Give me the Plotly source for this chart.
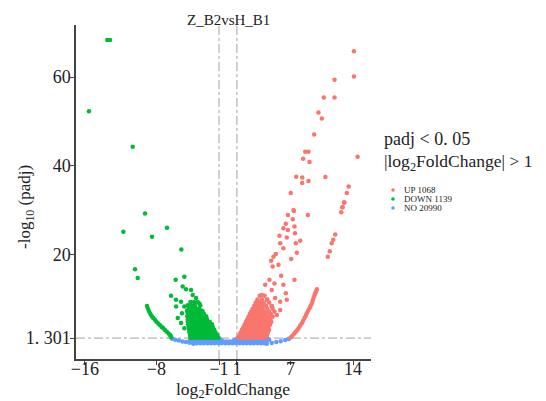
import plotly.graph_objects as go

# ---- data ----
# UP (red): log2FoldChange, -log10(padj)
up_points = [
    # dense cloud
    (1.1,1.4),(1.45,1.4),(1.8,1.4),(2.15,1.4),(2.5,1.4),(2.85,1.4),(3.2,1.4),(3.55,1.4),(3.9,1.4),(4.2,1.4),
    (1.25,1.9),(1.6,1.9),(1.95,1.9),(2.3,1.9),(2.65,1.9),(3.0,1.9),(3.35,1.9),(3.7,1.9),(4.05,1.9),(4.35,1.9),
    (1.4,2.5),(1.75,2.5),(2.1,2.5),(2.45,2.5),(2.8,2.5),(3.15,2.5),(3.5,2.5),(3.85,2.5),(4.2,2.5),(4.45,2.5),
    (1.55,3.1),(1.9,3.1),(2.25,3.1),(2.6,3.1),(2.95,3.1),(3.3,3.1),(3.65,3.1),(4.0,3.1),(4.35,3.1),(4.6,3.1),
    (1.7,3.7),(2.05,3.7),(2.4,3.7),(2.75,3.7),(3.1,3.7),(3.45,3.7),(3.8,3.7),(4.15,3.7),(4.5,3.7),
    (1.85,4.3),(2.2,4.3),(2.55,4.3),(2.9,4.3),(3.25,4.3),(3.6,4.3),(3.95,4.3),(4.3,4.3),(4.7,4.3),
    (2.0,4.9),(2.35,4.9),(2.7,4.9),(3.05,4.9),(3.4,4.9),(3.75,4.9),(4.1,4.9),(4.5,4.9),(4.85,4.9),
    (2.15,5.5),(2.5,5.5),(2.85,5.5),(3.2,5.5),(3.55,5.5),(3.9,5.5),(4.3,5.5),(4.75,5.5),
    (2.3,6.1),(2.65,6.1),(3.0,6.1),(3.35,6.1),(3.7,6.1),(4.1,6.1),(4.55,6.1),(5.0,6.1),
    (2.45,6.7),(2.8,6.7),(3.15,6.7),(3.5,6.7),(3.9,6.7),(4.3,6.7),(4.8,6.7),
    (2.6,7.3),(2.95,7.3),(3.3,7.3),(3.7,7.3),(4.1,7.3),(4.6,7.3),(5.2,7.3),
    (2.75,7.9),(3.1,7.9),(3.5,7.9),(3.9,7.9),(4.4,7.9),(5.0,7.9),
    (2.95,8.6),(3.35,8.6),(3.8,8.6),(4.25,8.6),(4.9,8.6),
    (3.1,9.3),(3.5,9.3),(4.0,9.3),(4.6,9.3),
    (3.3,10.0),(3.8,10.0),(4.4,10.0),
    (3.55,10.8),(4.1,10.8),
    # outer arc
    (7.0,1.45),(7.2,1.85),(7.4,2.25),(7.58,2.65),(7.74,3.05),(7.89,3.5),(8.08,4.1),(8.26,4.65),
    (8.41,5.2),(8.56,5.8),(8.7,6.35),(8.82,6.9),(8.97,7.45),(9.12,8.0),(9.25,8.55),(9.38,9.1),
    (9.48,9.7),(9.57,10.3),(9.67,10.85),(9.76,11.4),(9.86,11.85),(9.95,12.3),
    # scattered middle
    (7.37,29.9),(6.7,29.0),(8.93,29.0),(7.25,28.0),(6.47,27.0),(7.44,26.4),(6.2,26.0),(6.7,25.6),
    (7.5,24.9),(5.76,24.3),(6.58,23.9),(8.08,23.2),(5.84,22.6),(7.59,22.6),(6.2,21.5),(7.7,20.5),
    (5.35,20.2),(5.09,19.6),(7.07,19.1),(4.83,18.7),(5.65,17.8),(5.0,17.4),(5.95,15.3),(7.44,14.4),
    (4.64,14.4),(5.2,13.6),(4.16,13.3),(6.2,13.3),(4.9,12.1),(6.47,11.4),(3.78,11.0),(5.28,10.3),
    (4.35,9.9),(5.84,9.5),(6.58,9.9),(3.6,9.1),(4.9,8.4),(5.84,7.6),(5.47,6.5),
    # right trend
    (11.17,19.6),(11.39,20.8),(11.6,22.6),(11.77,23.4),(12.0,24.6),(12.67,29.6),(12.78,30.7),(12.97,31.8),
    # top outliers
    (14.09,65.8),(14.09,60.1),(11.92,59.4),(10.72,55.4),(11.92,55.4),(10.12,52.0),(10.5,50.7),(9.64,47.1),
    (8.64,43.2),(9.0,43.2),(8.41,41.6),(9.12,40.9),(14.5,42.1),(7.63,37.6),(8.3,37.4),(8.3,36.2),
    (9.0,36.6),(10.9,37.5),(13.5,35.4),(13.29,33.9),(13.03,31.8),(12.84,30.7),(7.02,33.9),(7.33,30.1),
]

# DOWN (green)
down_points = [
    # dense cloud
    (-4.2,1.4),(-3.85,1.4),(-3.5,1.4),(-3.15,1.4),(-2.8,1.4),(-2.45,1.4),(-2.1,1.4),(-1.75,1.4),(-1.4,1.4),(-1.05,1.4),
    (-4.25,2.0),(-3.9,2.0),(-3.55,2.0),(-3.2,2.0),(-2.85,2.0),(-2.5,2.0),(-2.15,2.0),(-1.8,2.0),(-1.45,2.0),(-1.2,2.0),
    (-4.3,2.6),(-3.95,2.6),(-3.6,2.6),(-3.25,2.6),(-2.9,2.6),(-2.55,2.6),(-2.2,2.6),(-1.85,2.6),(-1.4,2.6),
    (-4.35,3.2),(-4.0,3.2),(-3.65,3.2),(-3.3,3.2),(-2.95,3.2),(-2.6,3.2),(-2.25,3.2),(-1.9,3.2),(-1.55,3.2),
    (-4.4,3.8),(-4.05,3.8),(-3.7,3.8),(-3.35,3.8),(-3.0,3.8),(-2.65,3.8),(-2.3,3.8),(-1.95,3.8),(-1.7,3.8),
    (-4.45,4.4),(-4.1,4.4),(-3.75,4.4),(-3.4,4.4),(-3.05,4.4),(-2.7,4.4),(-2.35,4.4),(-2.0,4.4),(-1.8,4.4),
    (-4.5,5.0),(-4.15,5.0),(-3.8,5.0),(-3.45,5.0),(-3.1,5.0),(-2.75,5.0),(-2.4,5.0),(-2.05,5.0),
    (-4.5,5.6),(-4.15,5.6),(-3.8,5.6),(-3.45,5.6),(-3.1,5.6),(-2.75,5.6),(-2.35,5.6),
    (-4.55,6.2),(-4.2,6.2),(-3.85,6.2),(-3.5,6.2),(-3.15,6.2),(-2.8,6.2),(-2.45,6.2),
    (-4.5,6.8),(-4.15,6.8),(-3.8,6.8),(-3.45,6.8),(-3.1,6.8),(-2.7,6.8),
    (-4.6,7.4),(-4.2,7.4),(-3.85,7.4),(-3.5,7.4),(-3.15,7.4),(-2.85,7.4),
    (-4.4,8.0),(-4.0,8.0),(-3.6,8.0),(-3.2,8.0),
    (-4.5,8.7),(-4.1,8.7),(-3.7,8.7),(-3.1,8.7),
    (-4.2,9.4),(-3.8,9.4),(-3.4,9.4),
    # sparse middle
    (-5.07,12.9),(-4.69,12.3),(-4.13,12.1),(-6.37,10.8),(-5.81,9.9),(-5.25,9.5),(-3.95,11.0),(-3.57,10.3),
    (-3.2,9.1),(-4.88,8.4),(-5.8,8.4),(-5.14,6.9),(-5.62,5.8),(-5.25,4.7),(-4.88,3.5),
    # outer arc
    (-9.06,8.5),(-8.95,7.9),(-8.82,7.3),(-8.68,6.7),(-8.52,6.2),(-8.35,5.8),(-8.18,5.4),(-8.0,5.0),
    (-7.8,4.6),(-7.6,4.2),(-7.4,3.8),(-7.23,3.5),(-7.05,3.1),(-6.85,2.7),(-6.65,2.35),(-6.48,2.0),
    (-6.4,1.75),(-6.35,1.5),
    # outliers
    (-13.5,68.3),(-13.2,68.3),(-15.55,52.3),(-10.66,44.3),(-9.28,29.3),(-11.7,25.2),(-8.5,24.1),
    (-6.82,26.1),(-5.22,21.2),(-10.4,16.8),(-10.1,14.8),(-5.85,14.4),(-4.88,15.1),
]

# NO (blue)
no_points = [
    (-3.5,0.15),(-3.1,0.15),(-2.7,0.15),(-2.3,0.15),(-1.9,0.15),(-1.5,0.15),(-1.1,0.15),(-0.7,0.15),(-0.3,0.15),
    (0.1,0.15),(0.5,0.15),(0.9,0.15),(1.3,0.15),(1.7,0.15),(2.1,0.15),(2.5,0.15),(2.9,0.15),(3.3,0.15),(3.7,0.15),(4.1,0.15),
    (-4.0,0.4),(-3.6,0.4),(-3.2,0.4),(-2.8,0.4),(-2.4,0.4),(-2.0,0.4),(-1.6,0.4),(-1.2,0.4),(-0.8,0.4),(-0.4,0.4),
    (0.0,0.4),(0.4,0.4),(0.8,0.4),(1.2,0.4),(1.6,0.4),(2.0,0.4),(2.4,0.4),(2.8,0.4),(3.2,0.4),(3.6,0.4),(4.0,0.4),
    (-4.3,0.65),(-3.9,0.65),(-3.5,0.65),(-3.1,0.65),(-2.7,0.65),(-2.3,0.65),(-1.9,0.65),(-1.5,0.65),(-1.1,0.65),(-0.6,0.6),
    (-0.2,0.55),(0.2,0.55),(0.6,0.6),(1.1,0.65),(1.5,0.65),(1.9,0.65),(2.3,0.65),(2.7,0.65),(3.1,0.65),(3.5,0.65),(3.9,0.65),(4.3,0.65),
    (-4.2,0.95),(-3.8,0.95),(-3.4,0.95),(-3.0,0.95),(-2.6,0.95),(-2.2,0.95),(-1.8,0.95),(-1.4,0.95),(-1.0,0.95),(-0.75,0.85),
    (0.75,0.85),(1.0,0.95),(1.4,0.95),(1.8,0.95),(2.2,0.95),(2.6,0.95),(3.0,0.95),(3.4,0.95),(3.8,0.95),(4.2,0.95),(4.6,0.95),
    (-4.1,1.2),(-3.7,1.2),(-3.3,1.2),(-2.9,1.2),(-2.5,1.2),(-2.1,1.2),(-1.7,1.2),(-1.3,1.2),(-1.05,1.2),
    (1.05,1.2),(1.3,1.2),(1.7,1.2),(2.1,1.2),(2.5,1.2),(2.9,1.2),(3.3,1.2),(3.7,1.2),(4.1,1.2),(4.4,1.2),
    # left arc continuation
    (-6.25,1.15),(-5.9,0.95),(-5.5,0.75),(-5.1,0.55),(-4.7,0.4),(-4.3,0.25),(-3.87,0.05),
    # right arc continuation
    (4.35,0.05),(4.9,0.2),(5.4,0.4),(5.9,0.6),(6.4,0.85),(6.8,1.1),
]

groups = ["UP", "DOWN", "NO"]
group_counts = [1068, 1139, 20990]
group_colors = ["#F8766D", "#00BA38", "#619CFF"]

x_ticks = [-16, -8, -1, 1, 7, 14]
x_ticktext = ["\u221216", "\u22128", "\u22121", "1", "7", "14"]
y_ticks = [1.301, 20, 40, 60]
y_ticktext = ["1. 301", "20", "40", "60"]
fc_cut = 1
padj_cut = 1.301

FONT = "Liberation Serif"
TXT = "#222222"

fig = go.Figure()
for pts, name, col in [(no_points, "NO", group_colors[2]),
                       (down_points, "DOWN", group_colors[1]),
                       (up_points, "UP", group_colors[0])]:
    fig.add_trace(go.Scatter(
        x=[p[0] for p in pts], y=[p[1] for p in pts],
        mode="markers", name=name, showlegend=False,
        marker=dict(color=col, size=4.5, line=dict(width=0)),
        hoverinfo="skip"))

line_col = "#A8A0A0"
for xv in (-fc_cut, fc_cut):
    fig.add_shape(type="line", xref="x", yref="paper", x0=xv, x1=xv, y0=0, y1=1,
                  line=dict(color=line_col, width=1, dash="dashdot"), layer="below")
fig.add_shape(type="line", xref="paper", yref="y", x0=0, x1=1, y0=padj_cut, y1=padj_cut,
              line=dict(color=line_col, width=1, dash="dashdot"), layer="below")

W, H = 546, 401
ML, MR, MT, MB = 76, 175, 25, 42
PW, PH = W - ML - MR, H - MT - MB

def px(xpix):
    return (xpix - ML) / PW

def py(ypix):
    return (H - MB - ypix) / PH

def note(text, xp, yp, size, xanchor="center", angle=0, height=None):
    fig.add_annotation(text=text, x=px(xp), y=py(yp), xref="paper", yref="paper",
                       xanchor=xanchor, yanchor="middle", showarrow=False, textangle=angle,
                       height=height, font=dict(family=FONT, size=size, color=TXT))

# title
note("Z_B2vsH_B1", 228, 20, 15)
# axis titles
note("log<sub>2</sub>FoldChange", 233, 390, 17.5, height=20)
note("-log<sub>10</sub> (padj)", 26, 207, 17, angle=-90)
# legend title
note("padj < 0. 05", 382, 139, 18, xanchor="left")
note("|log<sub>2</sub>FoldChange| > 1", 382, 162, 17.5, xanchor="left")
# legend keys
for i, (g, n, c) in enumerate(zip(groups, group_counts, group_colors)):
    yy = 190 + i * 9
    fig.add_shape(type="circle", xref="paper", yref="paper", xsizemode="pixel", ysizemode="pixel",
                  xanchor=px(393), yanchor=py(yy), x0=-1.8, x1=1.8, y0=-1.8, y1=1.8,
                  fillcolor=c, line=dict(width=0))
    note(f"{g} {n}", 402, yy, 9, xanchor="left")

axis_common = dict(showgrid=False, zeroline=False, showline=True, linecolor="#444444", linewidth=1.5,
                   ticks="outside", ticklen=4, tickcolor="#444444", tickwidth=1,
                   tickfont=dict(family=FONT, size=18, color=TXT))
fig.update_xaxes(range=[-17.0, 16.0], tickmode="array", tickvals=x_ticks, ticktext=x_ticktext,
                 ticklabelstandoff=-11, **axis_common)
fig.update_yaxes(range=[-3.4, 71.7], tickmode="array", tickvals=y_ticks, ticktext=y_ticktext,
                 ticklabelstandoff=-4, **axis_common)

fig.update_layout(width=W, height=H, margin=dict(l=ML, r=MR, t=MT, b=MB, autoexpand=False),
                  plot_bgcolor="white", paper_bgcolor="white", showlegend=False)

fig.write_html("out.html")
